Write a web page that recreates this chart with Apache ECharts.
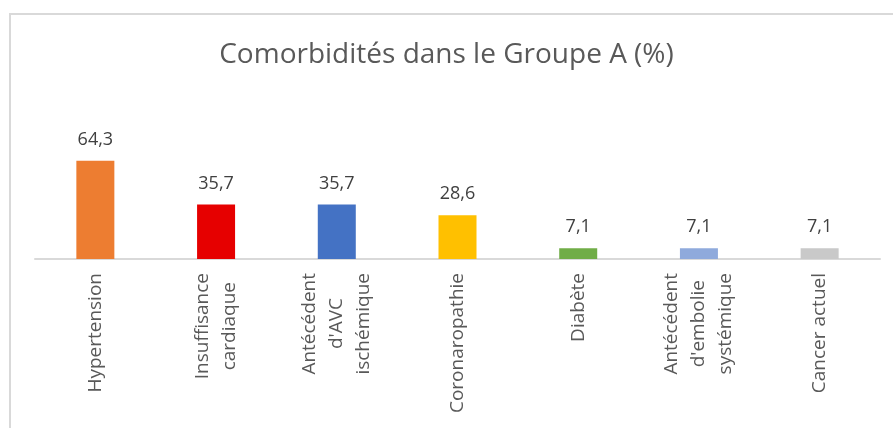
<!DOCTYPE html>
<html>
<head>
<meta charset="utf-8">
<script src="https://cdn.jsdelivr.net/npm/echarts@6/dist/echarts.min.js"></script>
<style>
  html, body { margin: 0; padding: 0; background: #fff; }
  #chart { width: 893px; height: 428px; }
</style>
</head>
<body>
<div id="chart"></div>
<script>
// data
const categories = [
  'Hypertension',
  'Insuffisance\ncardiaque',
  "Antécédent\nd'AVC\nischémique",
  'Coronaropathie',
  'Diabète',
  "Antécédent\nd'embolie\nsystémique",
  'Cancer actuel'
];
const values = [64.3, 35.7, 35.7, 28.6, 7.1, 7.1, 7.1];
const barColors = ['#ED7D31', '#E60000', '#4472C4', '#FFC000', '#70AD47', '#8FAADC', '#C9C9C9'];

const labelFont = 'Open Sans';
const labelSize = 19;

// lines of a multi-line label are centred on each other, like in Excel:
// shorter lines get a padding so they sit in the middle of the block
const ctx = document.createElement('canvas').getContext('2d');
ctx.font = labelSize + 'px "' + labelFont + '"';
const richStyles = {};
function centredLabel(text) {
  const lines = text.split('\n');
  const widths = lines.map(function (l) { return ctx.measureText(l).width; });
  const maxW = Math.max.apply(null, widths);
  return lines.map(function (l, i) {
    const pad = Math.round((maxW - widths[i]) / 2);
    const key = 'p' + pad;
    if (!richStyles[key]) {
      richStyles[key] = {
        align: 'right',
        padding: [0, pad, 0, 0],
        fontFamily: labelFont,
        fontSize: labelSize,
        lineHeight: 27,
        color: '#595959'
      };
    }
    return '{' + key + '|' + l + '}';
  }).join('\n');
}
const labelTexts = {};
categories.forEach(function (c) { labelTexts[c] = centredLabel(c); });

const chart = echarts.init(document.getElementById('chart'));

const option = {
  animation: false,
  title: {
    text: 'Comorbidités dans le Groupe A (%)',
    left: 'center',
    top: 36,
    textStyle: {
      fontFamily: 'Open Sans',
      fontSize: 28,
      fontWeight: 'normal',
      color: '#595959'
    }
  },
  graphic: [{
    type: 'rect',
    shape: { x: 10, y: 14, width: 2000, height: 2000 },
    style: { fill: 'none', stroke: '#D9D9D9', lineWidth: 2 },
    silent: true
  }],
  grid: { left: 35, right: 13, top: 152, bottom: 169 },
  xAxis: {
    type: 'category',
    data: categories,
    axisLine: { lineStyle: { color: '#D9D9D9', width: 2 } },
    axisTick: { show: false },
    axisLabel: {
      interval: 0,
      rotate: 90,
      margin: 14,
      fontFamily: labelFont,
      fontSize: labelSize,
      lineHeight: 27,
      color: '#595959',
      formatter: function (v) { return labelTexts[v]; },
      rich: richStyles
    }
  },
  yAxis: {
    type: 'value',
    min: 0,
    max: 70,
    show: false,
    splitLine: { show: false }
  },
  series: [{
    type: 'bar',
    barWidth: 38,
    data: values.map(function (v, i) {
      return { value: v, itemStyle: { color: barColors[i] } };
    }),
    label: {
      show: true,
      position: 'top',
      distance: 12,
      fontFamily: 'Open Sans',
      fontSize: 18,
      color: '#404040',
      formatter: function (p) { return String(p.value).replace('.', ','); }
    }
  }]
};

chart.setOption(option);
</script>
</body>
</html>
